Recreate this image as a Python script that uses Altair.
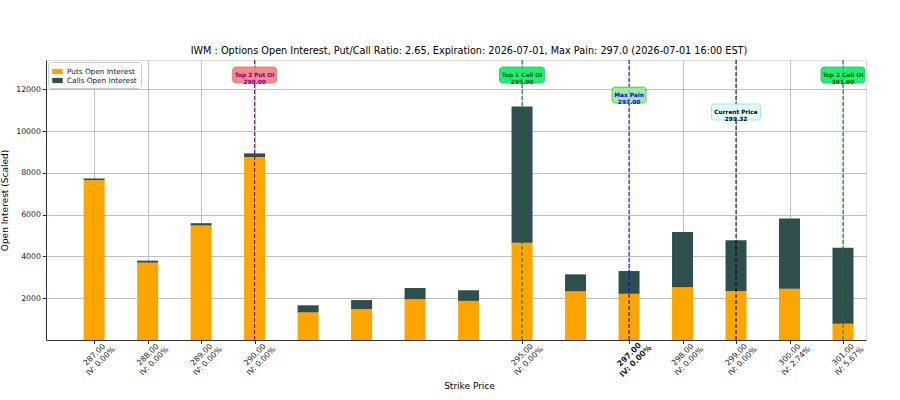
import altair as alt
import pandas as pd

strikes = [287, 288, 289, 290, 291, 292, 293, 294, 295, 296, 297, 298, 299, 300, 301]
puts = [7650, 3700, 5480, 8750, 1320, 1480, 1950, 1870, 4650, 2330, 2210, 2520, 2340, 2450, 780]
calls = [80, 100, 110, 180, 340, 430, 540, 510, 6530, 810, 1090, 2650, 2430, 3370, 3640]

tick_strikes = [287, 288, 289, 290, 295, 297, 298, 299, 300, 301]
tick_iv = ["0.00", "0.00", "0.00", "0.00", "0.00", "0.00", "0.00", "0.00", "2.74", "5.67"]

ann_names = ["Top 2 Put OI", "Top 1 Call OI", "Max Pain", "Current Price", "Top 2 Call OI"]
ann_values = [290.0, 295.0, 297.0, 299.32, 301.0]
ann_strike_slot = [290, 295, 297, 299, 301]
ann_y = [12680, 12680, 11720, 10910, 12680]

title = "IWM : Options Open Interest, Put/Call Ratio: 2.65, Expiration: 2026-07-01, Max Pain: 297.0 (2026-07-01 16:00 EST)"

FONT = "DejaVu Sans"
PUT_C = "#FFA500"
CALL_C = "#2F4F4F"

rows = []
for s, p, c in zip(strikes, puts, calls):
    rows.append({"strike": s, "series": "Puts Open Interest", "oi": p, "o": 0})
    rows.append({"strike": s, "series": "Calls Open Interest", "oi": c, "o": 1})
bars_df = pd.DataFrame(rows)

xscale = alt.Scale(domain=[286.1, 301.43], nice=False, zero=False, padding=0)
yscale = alt.Scale(domain=[0, 13400], nice=False, padding=0)

iv_arr = "[" + ",".join("'%s'" % v for v in tick_iv) + "]"
ks_arr = "[" + ",".join(str(v) for v in tick_strikes) + "]"
label_expr = "[format(datum.value, '.2f'), 'IV: ' + %s[indexof(%s, datum.value)] + '%%']" % (iv_arr, ks_arr)

bars = alt.Chart(bars_df).mark_bar(width=21).encode(
    x=alt.X("strike:Q", scale=xscale, title="Strike Price",
            axis=alt.Axis(values=tick_strikes, labelExpr=label_expr, labelAngle=-45,
                          labelAlign="center", labelBaseline="middle", labelPadding=11,
                          labelFontSize=7.8, labelFont=FONT, labelColor="#222",
                          labelFontWeight=alt.ExprRef("datum.value == 297 ? 'bold' : 'normal'"),
                          labelLineHeight=9,
                          titleFont=FONT, titleFontSize=9, titleFontWeight="normal",
                          titleX=423, titleY=45, titleBaseline="middle", titleColor="black",
                          grid=True, gridColor="#b0b0b0", gridWidth=0.8,
                          tickColor="#333", tickSize=3.5, domainColor="#333",
                          labelFlush=False, labelOverlap=False)),
    y=alt.Y("oi:Q", stack="zero", scale=yscale, title="Open Interest (Scaled)",
            axis=alt.Axis(values=[2000, 4000, 6000, 8000, 10000, 12000], format="d",
                          labelFontSize=7.8, labelFont=FONT, labelColor="#222",
                          titleFont=FONT, titleFontSize=9, titleFontWeight="normal",
                          titleColor="black", titlePadding=6,
                          grid=True, gridColor="#b0b0b0", gridWidth=0.8,
                          tickColor="#333", tickSize=3.5, domainColor="#333")),
    color=alt.Color("series:N",
                    scale=alt.Scale(domain=["Puts Open Interest", "Calls Open Interest"],
                                    range=[PUT_C, CALL_C]),
                    legend=alt.Legend(title=None, orient="top-left", offset=2,
                                      symbolType="M-1,-0.5H1V0.5H-1Z", symbolSize=110,
                                      symbolStrokeWidth=0,
                                      labelFont=FONT, labelFontSize=7.3, labelColor="#222",
                                      fillColor="white", strokeColor="#cccccc",
                                      cornerRadius=3, padding=4, rowPadding=0)),
    order=alt.Order("o:Q"),
)

styles = [
    # line color, box fill, box stroke, text color, box width px
    ("purple", "#F08080", "#E87070", "purple", 44),
    ("green", "#00EE66", "#33BB55", "#006400", 45),
    ("blue", "#90EE90", "#55AA55", "blue", 34),
    ("black", "#E0FFFF", "#88DDDD", "black", 49),
    ("green", "#00EE66", "#33BB55", "#006400", 44),
]

layers = [bars]
for i, name in enumerate(ann_names):
    lc, fill, stroke, tc, w = styles[i]
    d = pd.DataFrame({"x": [ann_strike_slot[i]], "y": [ann_y[i]],
                      "t1": [name], "t2": ["%.2f" % ann_values[i]]})
    rule = alt.Chart(d).mark_rule(color=lc, strokeDash=[4, 2], strokeWidth=1).encode(
        x=alt.X("x:Q", scale=xscale))
    h = 16.0
    hy = h / w
    r = 2 * 3.0 / w
    path = ("M%.4f,%.4f L%.4f,%.4f A%.4f,%.4f 0 0 1 %.4f,%.4f L%.4f,%.4f A%.4f,%.4f 0 0 1 %.4f,%.4f "
            "L%.4f,%.4f A%.4f,%.4f 0 0 1 %.4f,%.4f L%.4f,%.4f A%.4f,%.4f 0 0 1 %.4f,%.4f Z") % (
        -1 + r, -hy, 1 - r, -hy, r, r, 1, -hy + r,
        1, hy - r, r, r, 1 - r, hy,
        -1 + r, hy, r, r, -1, hy - r,
        -1, -hy + r, r, r, -1 + r, -hy)
    box = alt.Chart(d).mark_point(shape=path, size=w * w, filled=True, fill=fill, opacity=1,
                                  fillOpacity=0.9, stroke=stroke, strokeWidth=0.8).encode(
        x=alt.X("x:Q", scale=xscale), y=alt.Y("y:Q", scale=yscale))
    txt = alt.Chart(d).transform_calculate(lab="[datum.t1, datum.t2]").mark_text(
        font=FONT, fontSize=5.8, fontWeight="bold", color=tc, lineHeight=7,
        baseline="middle", align="center").encode(
        x=alt.X("x:Q", scale=xscale), y=alt.Y("y:Q", scale=yscale), text="lab:N")
    layers += [rule, box, txt]

chart = alt.layer(*layers).properties(
    width=820, height=280,
    title=alt.TitleParams(title, font=FONT, fontSize=9.7, fontWeight="normal", color="black",
                          offset=4, dx=13),
    autosize=alt.AutoSizeParams(type="none"),
    padding={"left": 46, "top": 60, "right": 34, "bottom": 60},
).configure_view(stroke="#333", strokeWidth=1).configure(background="white")

chart.save("out.html", embed_options={"renderer": "svg", "actions": False})
